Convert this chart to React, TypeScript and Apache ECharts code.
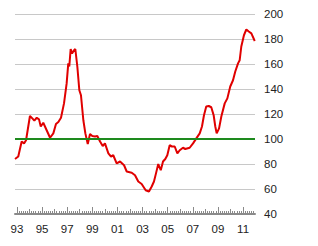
import React, { useEffect, useRef } from "react";
import * as echarts from "echarts";

const years = [
  1992.85, 1993.11, 1993.38, 1993.57, 1993.73, 1994.04, 1994.23, 1994.39, 1994.58, 1994.76,
  1994.9, 1995.1, 1995.37, 1995.64, 1995.9, 1996.11, 1996.3, 1996.51, 1996.75, 1996.96,
  1997.09, 1997.17, 1997.28, 1997.39, 1997.55, 1997.65, 1997.81, 1997.97,
  1998.1, 1998.29, 1998.45, 1998.64, 1998.82,
  1999.0, 1999.22, 1999.4, 1999.62, 1999.83,
  2000.01, 2000.28, 2000.49, 2000.67, 2000.94,
  2001.21, 2001.53, 2001.74,
  2002.14, 2002.4, 2002.66, 2002.93,
  2003.25, 2003.51, 2003.73, 2003.91,
  2004.07, 2004.25, 2004.45, 2004.63, 2004.81, 2004.97,
  2005.16, 2005.34, 2005.56, 2005.77, 2005.96,
  2006.22, 2006.4, 2006.75,
  2007.02, 2007.28, 2007.55, 2007.73, 2007.89,
  2008.07, 2008.27, 2008.47, 2008.66, 2008.79, 2008.9,
  2009.09, 2009.27, 2009.54, 2009.75, 2009.98,
  2010.2, 2010.38, 2010.6, 2010.73, 2010.86,
  2011.07, 2011.26, 2011.45, 2011.66, 2011.93,
];

const values = [
  84, 86, 98, 96.5, 99, 118.4, 116.5, 114.7, 117, 115.7,
  110, 113, 107, 101, 104.5, 112, 113.6, 117, 128.5, 144.5,
  160.5, 158, 172, 168.5, 171, 172, 158, 139,
  135, 115, 104.5, 96, 104,
  102.4, 102, 102.4, 98, 94.4,
  96.5, 88.5, 86, 87, 80.5,
  82, 79, 74,
  73, 71, 66, 64,
  59, 58, 62, 66,
  72.5, 80, 75, 82, 84, 87,
  95, 94, 94, 88.5, 91,
  93, 92, 93,
  96.5, 100.5, 104.5, 110, 119,
  126, 126.4, 125.4, 119, 110, 104.5,
  108.5, 118, 128.5, 132.5, 142,
  147, 154, 160.5, 163, 174,
  183, 187.7, 186, 184.5, 178.4,
];

const baseline = 100;
const labelYears = [1993, 1995, 1997, 1999, 2001, 2003, 2005, 2007, 2009, 2011];
const midYears = [1994, 1996, 1998, 2000, 2002, 2004, 2006, 2008, 2010];
const xMin = 1992.85;
const xMax = 2011.95;
const yTicks = [40, 60, 80, 100, 120, 140, 160, 180, 200];

export default function App() {
  const ref = useRef<HTMLDivElement>(null);
  useEffect(() => {
    if (!ref.current) return;
    const chart = echarts.init(ref.current, undefined, { renderer: "svg" });
    const minorTicks: number[] = [];
    for (let y = 1993; y < 2012; y++) {
      for (let m = 2; m < 12; m += 2) minorTicks.push(y + m / 12);
    }
    const font = "Liberation Sans";
    const baseX = (extra: any) => ({
      type: "value",
      position: "bottom",
      offset: 0,
      min: xMin,
      max: xMax,
      axisLine: { show: false },
      splitLine: { show: false },
      axisLabel: { show: false },
      axisTick: { show: false },
      ...extra,
    });
    chart.setOption({
      animation: false,
      grid: { left: 15, right: 63, top: 14, bottom: 32 },
      xAxis: [
        baseX({
          axisLine: { show: true, lineStyle: { color: "#8a8a8a", width: 2 } },
          axisTick: {
            show: true,
            inside: true,
            length: 7,
            customValues: labelYears,
            lineStyle: { color: "#8a8a8a", width: 1 },
          },
          axisLabel: {
            show: true,
            customValues: labelYears,
            formatter: (v: number) => String(Math.round(v) % 100).padStart(2, "0"),
            fontSize: 11.5,
            fontFamily: font,
            color: "#222",
            margin: 9,
          },
          z: 5,
        }),
        baseX({
          axisTick: {
            show: true,
            inside: true,
            length: 5,
            customValues: midYears,
            lineStyle: { color: "#8a8a8a", width: 1 },
          },
          z: 5,
        }),
        baseX({
          axisTick: {
            show: true,
            inside: true,
            length: 3,
            customValues: minorTicks,
            lineStyle: { color: "#8a8a8a", width: 1 },
          },
          z: 5,
        }),
      ],
      yAxis: {
        type: "value",
        position: "right",
        min: 40,
        max: 200,
        interval: 20,
        axisLine: { show: false },
        axisTick: { show: false },
        splitLine: { show: true, lineStyle: { color: "#c8c8c8", width: 1 } },
        axisLabel: {
          fontSize: 11.5,
          fontFamily: font,
          color: "#222",
          margin: 9,
          customValues: yTicks,
        },
      },
      series: [
        {
          type: "line",
          data: [],
          z: 2,
          markLine: {
            silent: true,
            symbol: "none",
            label: { show: false },
            lineStyle: { color: "#1e8a1e", width: 2, type: "solid" },
            data: [{ yAxis: baseline }],
          },
        },
        {
          type: "line",
          xAxisIndex: 0,
          data: years.map((y, i) => [y, values[i]]),
          showSymbol: false,
          symbol: "none",
          lineStyle: { color: "#e00000", width: 2 },
          z: 3,
        },
      ],
    });
    return () => chart.dispose();
  }, []);
  return <div ref={ref} style={{ width: 318, height: 246, position: "absolute", left: 0, top: 0 }} />;
}
